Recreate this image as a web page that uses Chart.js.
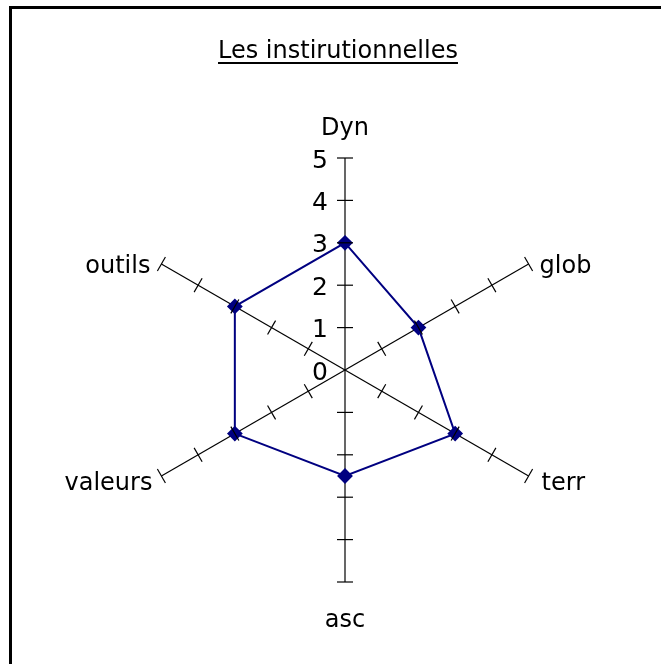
<!DOCTYPE html>
<html>
<head>
<meta charset="utf-8">
<script src="https://cdn.jsdelivr.net/npm/chart.js@4/dist/chart.umd.min.js"></script>
<style>
  html, body { margin: 0; padding: 0; background: #ffffff; }
  #wrap { position: relative; width: 661px; height: 664px; overflow: hidden; }
  #frame {
    position: absolute; left: 9px; top: 6px; width: 700px; height: 700px;
    border-top: 3px solid #000; border-left: 3px solid #000;
  }
  #title {
    position: absolute; left: 0; width: 676px; top: 36px; text-align: center;
    font-family: 'Comic Sans MS', 'DejaVu Sans', sans-serif; font-size: 24px;
    color: #000; text-decoration: underline; text-decoration-thickness: 2px;
    text-underline-offset: 4px;
  }
  #chart { position: absolute; left: 0; top: 0; }
</style>
</head>
<body>
<div id="wrap">
  <canvas id="chart" width="661" height="664"></canvas>
  <div id="frame"></div>
  <div id="title">Les instirutionnelles</div>
</div>
<script>
// données
const categories = ['Dyn', 'glob', 'terr', 'asc', 'valeurs', 'outils']
const values = [3, 2, 3, 2.5, 3, 3]
const scaleMin = 0
const scaleMax = 5

const FONT = "'Comic Sans MS', 'DejaVu Sans', sans-serif"

// placement des libellés autour de chaque extrémité d'axe
const labelPlace = [
  { align: 'center', dx: 0, dy: -23 },
  { align: 'left', dx: 11, dy: 9 },
  { align: 'left', dx: 13, dy: 14 },
  { align: 'center', dx: 0, dy: 45 },
  { align: 'right', dx: -9, dy: 14 },
  { align: 'right', dx: -11, dy: 9 }
]

// petits traits perpendiculaires sur les axes + libellés
const spokeTicks = {
  id: 'spokeTicks',
  afterDatasetsDraw(chart) {
    const scale = chart.scales.r
    const ctx = chart.ctx
    ctx.save()
    ctx.strokeStyle = '#000'
    ctx.lineWidth = 1.2
    for (let i = 0; i < categories.length; i++) {
      const a = scale.getIndexAngle(i) - Math.PI / 2
      const px = -Math.sin(a), py = Math.cos(a)
      for (let v = scaleMin + 1; v <= scaleMax; v++) {
        const p = scale.getPointPositionForValue(i, v)
        ctx.beginPath()
        ctx.moveTo(p.x - px * 8, p.y - py * 8)
        ctx.lineTo(p.x + px * 8, p.y + py * 8)
        ctx.stroke()
      }
    }

    // graduations sur l'axe Dyn
    ctx.fillStyle = '#000'
    ctx.font = '25px ' + FONT
    ctx.textAlign = 'right'
    ctx.textBaseline = 'middle'
    scale.ticks.forEach(t => {
      const p = scale.getPointPositionForValue(0, t.value)
      ctx.fillText(String(t.value), p.x - 17, p.y + 3)
    })

    // noms des axes
    ctx.font = '24px ' + FONT
    ctx.textBaseline = 'alphabetic'
    categories.forEach((c, i) => {
      const p = scale.getPointPositionForValue(i, scaleMax)
      const pl = labelPlace[i]
      ctx.textAlign = pl.align
      ctx.fillText(c, p.x + pl.dx, p.y + pl.dy)
    })
    ctx.restore()
  }
}

new Chart(document.getElementById('chart'), {
  type: 'radar',
  data: {
    labels: categories,
    datasets: [{
      data: values,
      borderColor: '#000080',
      borderWidth: 2,
      backgroundColor: 'rgba(0,0,0,0)',
      fill: false,
      pointStyle: 'rectRot',
      pointRadius: 6.5,
      pointBackgroundColor: '#000080',
      pointBorderColor: '#000080',
      tension: 0
    }]
  },
  options: {
    responsive: false,
    animation: false,
    layout: { padding: { left: 133, right: 104, top: 158, bottom: 82 } },
    plugins: { legend: { display: false }, tooltip: { enabled: false }, title: { display: false } },
    scales: {
      r: {
        min: scaleMin,
        max: scaleMax,
        ticks: { display: false, stepSize: 1 },
        grid: { display: false },
        angleLines: { display: true, color: '#000', lineWidth: 1.2 },
        pointLabels: { display: false }
      }
    }
  },
  plugins: [spokeTicks]
})
</script>
</body>
</html>
